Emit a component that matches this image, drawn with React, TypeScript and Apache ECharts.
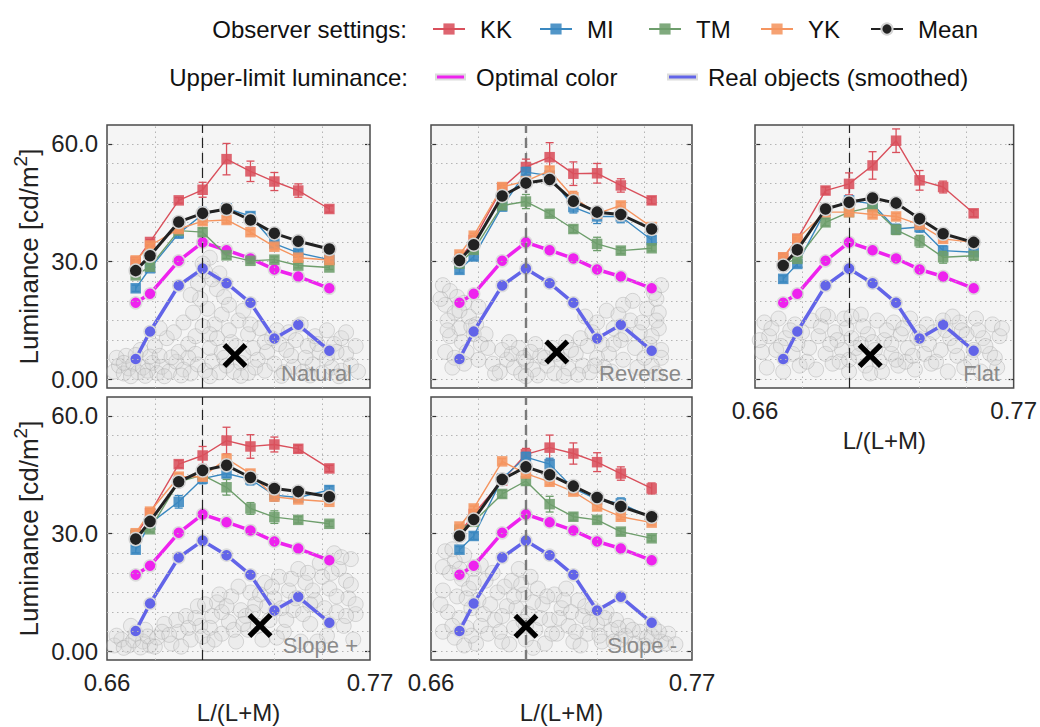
import React, { useEffect, useRef } from "react";
import * as echarts from "echarts";

// ---------------- data ----------------
const xs = [0.672, 0.678, 0.69, 0.7, 0.71, 0.72, 0.73, 0.74, 0.753];
const optimalColor = [19.5, 21.8, 30.2, 34.9, 32.9, 30.8, 28.0, 26.2, 23.2];
const realObjects = [5.2, 12.2, 23.9, 28.2, 24.5, 19.5, 10.4, 13.9, 7.3];

const panelNames = ["Natural", "Reverse", "Flat", "Slope +", "Slope -"];
const observers = ["KK", "MI", "TM", "YK"];
const yTickValues = [0, 30, 60];
const xTickValues = [0.66, 0.77];
const yGridValues = [0, 5, 10, 15, 20, 25, 30, 35, 40, 45, 50, 55, 60];
const xGridValues = [0.682, 0.704, 0.726, 0.748];
const referenceX = 0.7;

// Natural
const naturalKK = [30.0, 35.0, 45.6, 48.3, 56.1, 53.0, 50.4, 48.1, 43.4];
const naturalMI = [23.2, 28.3, 37.2, 42.0, 43.6, 41.6, 34.6, 32.2, 30.5];
const naturalTM = [26.5, 28.7, 37.9, 37.5, 31.6, 30.2, 30.5, 29.0, 28.5];
const naturalYK = [30.3, 34.1, 38.3, 40.3, 40.6, 37.5, 33.8, 31.0, 30.4];
const naturalMean = [27.7, 31.5, 40.1, 42.3, 43.4, 40.6, 37.2, 35.2, 33.2];
const naturalKKErr = [0.6, 0.6, 0.7, 1.9, 4.0, 2.6, 2.3, 1.7, 0.8];
const naturalMIErr = [0.8, 0.8, 1.2, 1.8, 1.2, 0.9, 1.0, 0.8, 0.6];
const naturalTMErr = [0.6, 0.6, 0.8, 1.0, 0.8, 0.6, 0.7, 0.6, 0.5];
const naturalYKErr = [0.5, 0.5, 0.7, 0.8, 0.8, 0.6, 0.7, 0.6, 0.5];

// Reverse
const reverseKK = [30.5, 35.5, 48.8, 54.1, 56.6, 52.4, 52.5, 49.4, 45.6];
const reverseMI = [27.9, 31.3, 44.0, 52.8, 51.9, 43.9, 41.5, 41.5, 35.5];
const reverseTM = [29.5, 33.0, 44.3, 45.3, 42.2, 38.3, 34.5, 32.8, 33.4];
const reverseYK = [31.8, 36.6, 49.0, 50.5, 53.2, 46.4, 42.2, 44.3, 38.8];
const reverseMean = [30.3, 34.3, 46.7, 50.0, 50.9, 45.4, 42.6, 42.0, 38.3];
const reverseKKErr = [0.6, 0.7, 0.8, 2.0, 3.7, 3.0, 2.5, 1.7, 0.9];
const reverseMIErr = [0.8, 0.9, 1.0, 1.2, 1.0, 1.5, 1.8, 1.6, 1.0];
const reverseTMErr = [0.6, 0.7, 0.9, 1.8, 0.8, 0.9, 1.7, 0.8, 0.7];
const reverseYKErr = [0.5, 0.6, 0.7, 0.8, 1.0, 1.5, 0.9, 0.8, 0.6];

// Flat
const flatKK = [31.0, 35.8, 48.1, 49.8, 54.5, 60.8, 50.7, 49.0, 42.3];
const flatMI = [25.6, 29.4, 43.0, 45.6, 44.7, 38.3, 38.8, 32.8, 32.4];
const flatTM = [29.4, 30.7, 40.0, 42.6, 43.9, 38.1, 35.2, 31.1, 31.5];
const flatYK = [31.1, 35.8, 42.6, 42.6, 42.0, 41.5, 39.4, 35.8, 34.9];
const flatMean = [29.0, 33.0, 43.4, 45.1, 46.2, 44.9, 40.9, 37.1, 34.9];
const flatKKErr = [0.6, 0.7, 0.9, 2.8, 3.5, 3.0, 2.5, 1.5, 0.9];
const flatMIErr = [0.8, 0.8, 1.0, 1.0, 1.0, 1.2, 1.3, 1.2, 0.8];
const flatTMErr = [0.6, 0.6, 0.9, 0.8, 0.9, 1.2, 1.5, 1.5, 1.0];
const flatYKErr = [0.5, 0.6, 0.7, 0.7, 0.8, 0.8, 0.7, 0.7, 0.6];

// Slope +
const slopePlusKK = [29.5, 35.2, 47.7, 49.9, 53.7, 52.2, 52.7, 51.6, 46.6];
const slopePlusMI = [25.9, 32.6, 38.1, 44.0, 45.3, 43.8, 39.8, 39.2, 41.1];
const slopePlusTM = [29.7, 31.1, 43.2, 44.9, 41.8, 36.4, 34.2, 33.5, 32.5];
const slopePlusYK = [30.1, 35.6, 44.5, 44.5, 49.1, 45.3, 39.4, 38.7, 38.1];
const slopePlusMean = [28.6, 33.1, 43.2, 46.1, 47.4, 44.3, 41.5, 40.7, 39.4];
const slopePlusKKErr = [0.6, 0.7, 0.9, 2.3, 3.4, 3.0, 1.9, 0.9, 0.8];
const slopePlusMIErr = [0.8, 0.9, 1.6, 1.3, 1.0, 1.4, 1.5, 1.0, 1.0];
const slopePlusTMErr = [0.6, 0.7, 0.8, 0.9, 2.0, 1.5, 1.6, 0.8, 0.7];
const slopePlusYKErr = [0.5, 0.6, 0.8, 1.0, 1.0, 0.8, 0.8, 0.7, 0.6];

// Slope -
const slopeMinusKK = [30.0, 35.0, 43.5, 50.2, 51.9, 50.4, 48.2, 45.3, 41.5];
const slopeMinusMI = [25.9, 29.4, 44.0, 49.5, 47.7, 41.5, 38.7, 37.7, 34.0];
const slopeMinusTM = [31.0, 33.0, 40.1, 43.4, 37.5, 34.3, 33.5, 30.5, 28.8];
const slopeMinusYK = [31.8, 36.4, 48.4, 45.3, 43.2, 40.7, 36.9, 34.3, 32.8];
const slopeMinusMean = [29.4, 33.6, 43.8, 47.0, 45.0, 42.1, 39.2, 36.9, 34.3];
const slopeMinusKKErr = [0.6, 0.7, 0.9, 1.5, 3.2, 2.7, 2.4, 1.7, 1.4];
const slopeMinusMIErr = [0.8, 0.9, 1.0, 1.2, 1.5, 1.2, 1.0, 1.4, 0.8];
const slopeMinusTMErr = [0.6, 0.7, 0.9, 1.0, 2.0, 0.9, 0.8, 0.8, 0.7];
const slopeMinusYKErr = [0.5, 0.6, 0.7, 0.8, 0.8, 0.8, 0.9, 0.7, 0.6];

// centroid ("x") markers
const centroids = [
  [0.7135, 6.1],
  [0.713, 7.0],
  [0.709, 6.1],
  [0.724, 6.6],
  [0.7, 6.4],
];

// background object clouds
const naturalCloud = [
  [0.663, 2.0], [0.665, 3.5], [0.667, 1.5], [0.669, 2.8], [0.671, 4.0], [0.673, 1.8], [0.675, 3.0], [0.677, 2.2],
  [0.679, 4.2], [0.681, 1.6], [0.683, 3.2], [0.686, 2.0], [0.689, 4.5], [0.692, 2.5], [0.695, 1.5], [0.698, 3.8],
  [0.701, 2.2], [0.704, 4.6], [0.707, 1.8], [0.71, 3.5], [0.713, 2.0], [0.716, 4.2], [0.719, 1.6], [0.722, 3.0],
  [0.726, 2.2], [0.73, 4.0], [0.734, 1.8], [0.738, 3.2], [0.742, 2.0], [0.746, 3.8], [0.75, 1.6], [0.754, 3.0],
  [0.758, 2.2], [0.762, 3.6], [0.765, 2.0],
  [0.668, 6.0], [0.674, 7.5], [0.68, 8.5], [0.685, 10.5], [0.69, 7.0], [0.694, 9.0], [0.697, 6.5], [0.703, 8.0],
  [0.708, 7.0], [0.712, 9.5], [0.717, 6.5], [0.721, 8.0], [0.727, 7.0], [0.732, 9.0], [0.737, 6.0], [0.744, 8.5],
  [0.749, 7.0], [0.755, 9.0], [0.76, 6.5], [0.764, 8.5],
  [0.682, 13.0], [0.688, 12.0], [0.692, 14.5], [0.696, 17.0], [0.699, 20.5], [0.702, 18.0], [0.705, 14.0],
  [0.708, 16.5], [0.711, 12.5], [0.715, 15.0], [0.719, 11.5], [0.724, 13.0], [0.729, 10.5], [0.736, 12.0],
  [0.741, 14.0], [0.747, 11.0], [0.752, 12.5], [0.758, 10.5],
  [0.698, 24.5], [0.701, 27.5], [0.703, 31.0], [0.706, 23.0], [0.709, 21.0], [0.7, 29.5], [0.704, 25.5],
  [0.664, 5.5], [0.667, 4.2], [0.67, 0.8], [0.672, 6.2], [0.676, 0.9], [0.678, 5.8], [0.682, 6.0], [0.684, 0.8],
  [0.687, 5.6], [0.691, 1.0], [0.694, 5.5], [0.697, 11.0], [0.7, 13.5], [0.703, 11.5], [0.706, 10.5], [0.709, 5.5],
  [0.711, 19.0], [0.714, 8.5], [0.717, 17.5], [0.72, 14.0], [0.723, 5.0], [0.726, 9.5], [0.731, 12.5], [0.735, 7.5],
  [0.739, 10.0], [0.743, 5.5], [0.748, 9.0], [0.752, 5.5], [0.756, 7.0], [0.76, 12.0], [0.733, 0.9], [0.745, 1.0],
  [0.757, 0.8], [0.703, 0.8], [0.716, 0.9], [0.695, 21.5], [0.707, 27.0],
];
const reverseCloud = [
  [0.665, 24.0], [0.668, 22.5], [0.671, 21.0], [0.666, 19.0], [0.67, 17.0], [0.674, 19.5], [0.667, 15.0],
  [0.672, 13.0], [0.676, 16.0], [0.679, 14.0], [0.668, 11.0], [0.673, 9.5], [0.678, 11.5], [0.681, 9.0],
  [0.666, 7.0], [0.67, 5.5], [0.675, 7.0], [0.68, 5.0], [0.684, 8.0],
  [0.686, 4.0], [0.689, 2.0], [0.692, 5.0], [0.695, 3.0], [0.698, 1.5], [0.7, 4.5], [0.703, 2.5], [0.706, 6.0],
  [0.709, 3.5], [0.712, 1.5], [0.715, 5.0], [0.718, 2.8], [0.721, 6.5], [0.724, 3.5], [0.727, 1.8], [0.73, 5.5],
  [0.733, 3.0], [0.69, 7.5], [0.697, 8.0], [0.704, 9.0], [0.711, 8.0], [0.717, 9.5], [0.723, 10.5], [0.728, 12.0],
  [0.725, 16.0], [0.73, 14.5], [0.734, 17.5], [0.737, 13.0], [0.74, 10.0], [0.744, 15.0], [0.748, 12.0],
  [0.751, 18.0], [0.745, 20.0], [0.754, 22.0], [0.757, 24.0], [0.755, 20.5], [0.756, 17.0], [0.756, 13.0],
  [0.752, 9.0], [0.757, 7.5], [0.757, 5.5], [0.741, 5.0], [0.747, 3.0], [0.736, 2.0], [0.753, 3.5], [0.755, 1.5],
  [0.664, 20.5], [0.667, 12.5], [0.669, 3.0], [0.672, 17.5], [0.674, 4.0], [0.677, 13.5], [0.68, 18.5],
  [0.683, 11.5], [0.687, 1.5], [0.694, 6.5], [0.699, 5.5], [0.702, 7.0], [0.705, 1.0], [0.708, 5.5], [0.713, 6.5],
  [0.716, 0.9], [0.719, 7.5], [0.722, 1.2], [0.726, 8.5], [0.729, 3.5], [0.732, 9.0], [0.735, 6.5], [0.739, 16.5],
  [0.742, 11.5], [0.746, 8.0], [0.749, 14.5], [0.75, 5.5], [0.753, 11.0], [0.755, 15.0], [0.741, 19.0],
  [0.737, 9.0], [0.7, 0.8], [0.693, 9.5],
];
const flatCloud = [
  [0.664, 14.5], [0.67, 15.5], [0.677, 14.0], [0.684, 15.0], [0.691, 16.0], [0.698, 15.5], [0.705, 16.5],
  [0.712, 15.0], [0.719, 14.5], [0.726, 15.5], [0.733, 14.0], [0.74, 15.0], [0.747, 14.5], [0.754, 15.5], [0.761, 14.0],
  [0.666, 11.0], [0.673, 10.5], [0.68, 12.0], [0.687, 11.0], [0.694, 12.0], [0.701, 10.5], [0.708, 11.5],
  [0.715, 10.0], [0.722, 11.5], [0.729, 10.5], [0.736, 12.0], [0.743, 10.5], [0.75, 11.5], [0.757, 10.5], [0.764, 11.0],
  [0.663, 7.0], [0.669, 7.5], [0.676, 6.5], [0.683, 8.0], [0.69, 6.5], [0.697, 7.5], [0.704, 6.0], [0.711, 7.5],
  [0.718, 6.5], [0.725, 8.0], [0.732, 6.5], [0.739, 7.5], [0.746, 6.0], [0.753, 7.5], [0.76, 6.5],
  [0.665, 3.0], [0.672, 2.0], [0.679, 3.5], [0.686, 2.5], [0.693, 4.0], [0.7, 2.0], [0.707, 3.5], [0.714, 2.0],
  [0.721, 3.5], [0.728, 2.5], [0.735, 4.0], [0.742, 2.0], [0.749, 3.0], [0.756, 2.0], [0.763, 3.0],
  [0.7, 5.0], [0.705, 9.0], [0.713, 4.5], [0.718, 9.0], [0.695, 10.0], [0.724, 4.5],
  [0.662, 10.0], [0.667, 13.0], [0.671, 8.5], [0.675, 12.5], [0.678, 9.0], [0.682, 4.5], [0.688, 13.5],
  [0.692, 9.0], [0.696, 4.5], [0.699, 13.0], [0.703, 8.0], [0.706, 13.5], [0.709, 1.5], [0.71, 9.5],
  [0.716, 12.5], [0.72, 5.0], [0.723, 13.0], [0.727, 6.0], [0.73, 12.0], [0.734, 9.0], [0.737, 4.5],
  [0.741, 12.5], [0.745, 8.5], [0.748, 12.5], [0.752, 4.5], [0.755, 12.5], [0.758, 8.5], [0.762, 5.5],
  [0.765, 13.0], [0.701, 16.0], [0.689, 16.5], [0.744, 16.0],
];
const slopePlusCloud = [
  [0.663, 1.5], [0.666, 3.0], [0.669, 1.5], [0.672, 4.5], [0.675, 2.5], [0.678, 1.5], [0.67, 6.5], [0.676, 5.5],
  [0.681, 3.5], [0.684, 7.0], [0.687, 2.0], [0.69, 5.0], [0.693, 9.0], [0.695, 3.0], [0.698, 11.5], [0.699, 6.5],
  [0.702, 1.8], [0.704, 9.0], [0.706, 12.5], [0.708, 4.5], [0.711, 7.5], [0.712, 14.0], [0.714, 2.5],
  [0.716, 10.5], [0.719, 5.5], [0.72, 15.0], [0.722, 12.0], [0.725, 3.0], [0.726, 17.5], [0.728, 8.0],
  [0.73, 13.5], [0.732, 19.0], [0.734, 5.0], [0.736, 15.5], [0.738, 10.5], [0.74, 21.0], [0.741, 2.5],
  [0.743, 17.5], [0.745, 7.0], [0.747, 13.0], [0.749, 22.5], [0.75, 19.0], [0.752, 4.0], [0.753, 16.0],
  [0.755, 25.0], [0.756, 10.0], [0.757, 21.0], [0.759, 6.5], [0.76, 18.0], [0.761, 13.5], [0.762, 23.5],
  [0.763, 3.0], [0.764, 9.5], [0.7, 3.8], [0.718, 9.0], [0.733, 11.0], [0.708, 10.0], [0.723, 6.5], [0.745, 12.0],
  [0.664, 4.0], [0.667, 0.9], [0.671, 2.8], [0.674, 1.0], [0.677, 3.8], [0.68, 1.2], [0.683, 5.0], [0.686, 4.2],
  [0.689, 8.0], [0.691, 1.2], [0.694, 6.0], [0.697, 8.5], [0.701, 12.0], [0.703, 6.0], [0.705, 3.0],
  [0.707, 14.5], [0.71, 11.5], [0.713, 5.5], [0.715, 16.5], [0.717, 7.0], [0.721, 10.0], [0.724, 14.5],
  [0.727, 11.5], [0.729, 16.5], [0.731, 3.5], [0.735, 8.0], [0.737, 18.5], [0.739, 13.5], [0.742, 9.5],
  [0.744, 20.0], [0.746, 15.5], [0.748, 2.5], [0.751, 11.0], [0.754, 20.0], [0.756, 14.0], [0.758, 24.0],
  [0.76, 9.0], [0.762, 17.0], [0.764, 12.0],
];
const slopeMinusCloud = [
  [0.666, 25.5], [0.67, 23.0], [0.674, 24.5], [0.668, 20.0], [0.673, 18.5], [0.678, 21.0], [0.665, 15.5],
  [0.671, 14.0], [0.676, 16.0], [0.68, 13.0], [0.667, 10.0], [0.672, 8.5], [0.677, 11.0], [0.682, 9.5],
  [0.665, 5.0], [0.67, 3.5], [0.675, 6.0], [0.679, 2.0], [0.684, 4.5], [0.687, 8.0], [0.688, 15.0], [0.69, 2.5],
  [0.692, 11.5], [0.694, 18.0], [0.695, 6.0], [0.697, 21.0], [0.699, 14.5], [0.7, 3.0], [0.701, 9.5],
  [0.702, 19.0], [0.704, 5.5], [0.705, 16.0], [0.707, 12.0], [0.708, 2.0], [0.71, 8.0], [0.712, 14.5],
  [0.713, 4.5], [0.715, 11.0], [0.717, 16.0], [0.718, 6.5], [0.72, 2.5], [0.722, 13.0], [0.724, 9.0],
  [0.726, 4.5], [0.728, 11.0], [0.73, 7.0], [0.732, 2.5], [0.734, 10.0], [0.736, 5.5], [0.738, 8.0], [0.74, 3.0],
  [0.743, 6.5], [0.746, 2.0], [0.748, 5.0], [0.751, 3.5], [0.754, 6.0], [0.757, 2.5], [0.76, 4.5], [0.763, 1.8],
  [0.7, 6.5], [0.69, 9.0], [0.683, 18.0],
  [0.665, 21.5], [0.669, 26.0], [0.672, 21.0], [0.675, 13.5], [0.678, 17.5], [0.681, 22.0], [0.664, 12.0],
  [0.669, 6.5], [0.674, 1.5], [0.677, 4.0], [0.681, 6.5], [0.685, 12.0], [0.686, 20.0], [0.689, 5.0],
  [0.691, 16.5], [0.693, 1.8], [0.696, 11.0], [0.698, 17.0], [0.699, 7.5], [0.703, 12.5], [0.703, 0.9],
  [0.706, 8.5], [0.709, 14.0], [0.711, 4.5], [0.714, 8.5], [0.716, 13.0], [0.719, 10.0], [0.721, 5.0],
  [0.723, 1.5], [0.725, 11.5], [0.727, 7.5], [0.731, 4.0], [0.733, 8.5], [0.737, 2.5], [0.739, 6.0],
  [0.742, 4.0], [0.745, 5.5], [0.75, 1.5], [0.753, 4.0], [0.756, 5.0], [0.759, 2.0], [0.695, 14.0],
];

// ---------------- assembly ----------------
const panelObserverValues = [
  [naturalKK, naturalMI, naturalTM, naturalYK],
  [reverseKK, reverseMI, reverseTM, reverseYK],
  [flatKK, flatMI, flatTM, flatYK],
  [slopePlusKK, slopePlusMI, slopePlusTM, slopePlusYK],
  [slopeMinusKK, slopeMinusMI, slopeMinusTM, slopeMinusYK],
];
const panelObserverErrors = [
  [naturalKKErr, naturalMIErr, naturalTMErr, naturalYKErr],
  [reverseKKErr, reverseMIErr, reverseTMErr, reverseYKErr],
  [flatKKErr, flatMIErr, flatTMErr, flatYKErr],
  [slopePlusKKErr, slopePlusMIErr, slopePlusTMErr, slopePlusYKErr],
  [slopeMinusKKErr, slopeMinusMIErr, slopeMinusTMErr, slopeMinusYKErr],
];
const panelMeans = [naturalMean, reverseMean, flatMean, slopePlusMean, slopeMinusMean];
const panelClouds = [naturalCloud, reverseCloud, flatCloud, slopePlusCloud, slopeMinusCloud];

// ---------------- styling ----------------
const FONT = "'Liberation Sans', Arial, Helvetica, sans-serif";
const observerColors = ["#d9505c", "#3a88c0", "#6e9e6c", "#f59560"];
const MEAN_COLOR = "#222222";
const OPTIMAL_COLOR = "#ee22ee";
const REAL_COLOR = "#6264e8";
const Y_MIN = -2.2;
const Y_MAX = 64.8;

const gridBoxes = [
  { left: 107, top: 125, width: 263, height: 263 },
  { left: 431, top: 125, width: 261, height: 263 },
  { left: 755, top: 125, width: 263, height: 263 },
  { left: 107, top: 397, width: 263, height: 263 },
  { left: 431, top: 397, width: 261, height: 263 },
];
const showXLabels = [false, false, true, true, true];
const showYLabels = [true, false, false, true, false];
const dashStyles = [
  { color: "#222", width: 1.2 },
  { color: "#7a7a7a", width: 2.4 },
  { color: "#222", width: 1.2 },
  { color: "#222", width: 1.2 },
  { color: "#7a7a7a", width: 2.4 },
];
const nameOffsets = [18, 11, 18, 12, 15];

const X_PATH =
  "path://M3,0 L10,7 L17,0 L20,3 L13,10 L20,17 L17,20 L10,13 L3,20 L0,17 L7,10 L0,3 Z";

function yFmt(v: number) {
  return v === 0 ? "0.00" : v.toFixed(1);
}

function buildOption() {
  const grid: any[] = [];
  const xAxis: any[] = [];
  const yAxis: any[] = [];
  const series: any[] = [];
  const graphic: any[] = [];

  gridBoxes.forEach((g, p) => {
    grid.push({
      ...g,
      show: true,
      backgroundColor: "#f5f5f5",
      borderColor: "#4a4a4a",
      borderWidth: 1.5,
      containLabel: false,
    });
    xAxis.push({
      gridIndex: p,
      type: "value",
      min: 0.66,
      max: 0.77,
      splitLine: { show: false },
      axisLine: { show: false },
      axisTick: { show: false },
      axisLabel: {
        show: showXLabels[p],
        customValues: xTickValues,
        formatter: (v: number) => v.toFixed(2),
        fontSize: 24,
        fontFamily: FONT,
        color: "#222",
        margin: 10,
        showMinLabel: true,
        showMaxLabel: true,
      },
      name: showXLabels[p] ? "L/(L+M)" : "",
      nameLocation: "middle",
      nameGap: 40,
      nameTextStyle: { fontSize: 24, fontFamily: FONT, color: "#222" },
    });
    yAxis.push({
      gridIndex: p,
      type: "value",
      min: Y_MIN,
      max: Y_MAX,
      splitLine: { show: false },
      axisLine: { show: false },
      axisTick: {
        show: true,
        inside: true,
        length: 5,
        customValues: yTickValues,
        lineStyle: { color: "#333", width: 1.2 },
      },
      axisLabel: {
        show: showYLabels[p],
        customValues: yTickValues,
        formatter: yFmt,
        fontSize: 24,
        fontFamily: FONT,
        color: "#222",
        margin: 9,
      },
      name: showYLabels[p] ? "{a|Luminance [cd/m}{s|2}{a|]}" : "",
      nameLocation: "middle",
      nameRotate: 90,
      nameGap: 60,
      nameTextStyle: {
        fontSize: 26,
        fontFamily: FONT,
        color: "#222",
        rich: {
          a: { fontSize: 26, fontFamily: FONT, color: "#222" },
          s: { fontSize: 19, fontFamily: FONT, color: "#222", verticalAlign: "top", lineHeight: 36 },
        },
      },
    });
    yAxis.push({
      gridIndex: p,
      type: "value",
      position: "right",
      min: Y_MIN,
      max: Y_MAX,
      splitLine: { show: false },
      axisLine: { show: false },
      axisLabel: { show: false },
      axisTick: {
        show: true,
        inside: true,
        length: 5,
        customValues: yTickValues,
        lineStyle: { color: "#333", width: 1.2 },
      },
    });

    const yi = p * 2;

    // dotted grid lines
    series.push({
      type: "line",
      xAxisIndex: p,
      yAxisIndex: yi,
      data: [],
      silent: true,
      z: 1,
      markLine: {
        silent: true,
        symbol: ["none", "none"],
        label: { show: false },
        animation: false,
        lineStyle: { color: "#b5b5b5", width: 1, type: [1.5, 3.5] },
        data: [
          ...yGridValues.map((v) => ({ yAxis: v })),
          ...xGridValues.map((v) => ({ xAxis: v })),
        ],
      },
    });

    // background object cloud
    series.push({
      type: "scatter",
      xAxisIndex: p,
      yAxisIndex: yi,
      data: panelClouds[p],
      symbol: "circle",
      symbolSize: 15,
      silent: true,
      z: 2,
      itemStyle: {
        color: "rgba(212,212,212,0.32)",
        borderColor: "rgba(165,165,165,0.5)",
        borderWidth: 1,
      },
    });

    // dashed reference line
    series.push({
      type: "line",
      xAxisIndex: p,
      yAxisIndex: yi,
      data: [],
      silent: true,
      z: 3,
      markLine: {
        silent: true,
        symbol: ["none", "none"],
        label: { show: false },
        animation: false,
        lineStyle: { color: dashStyles[p].color, width: dashStyles[p].width, type: [10, 5] },
        data: [{ xAxis: referenceX }],
      },
    });

    // real objects
    series.push({
      name: "Real objects (smoothed)",
      type: "line",
      xAxisIndex: p,
      yAxisIndex: yi,
      data: xs.map((x, i) => [x, realObjects[i]]),
      color: REAL_COLOR,
      lineStyle: { width: 3.5, color: REAL_COLOR },
      symbol: "circle",
      symbolSize: 12,
      itemStyle: { color: REAL_COLOR, borderColor: "#dcdcdc", borderWidth: 1.5 },
      z: 4,
    });
    // optimal color
    series.push({
      name: "Optimal color",
      type: "line",
      xAxisIndex: p,
      yAxisIndex: yi,
      data: xs.map((x, i) => [x, optimalColor[i]]),
      color: OPTIMAL_COLOR,
      lineStyle: { width: 3.5, color: OPTIMAL_COLOR },
      symbol: "circle",
      symbolSize: 12,
      itemStyle: { color: OPTIMAL_COLOR, borderColor: "#dcdcdc", borderWidth: 1.5 },
      z: 4,
    });

    // observers
    observers.forEach((obs, k) => {
      const vals = panelObserverValues[p][k];
      const errs = panelObserverErrors[p][k];
      const col = observerColors[k];
      series.push({
        name: obs,
        type: "line",
        xAxisIndex: p,
        yAxisIndex: yi,
        data: xs.map((x, i) => [x, vals[i]]),
        color: col,
        lineStyle: { width: 1.4, color: col },
        symbol: "rect",
        symbolSize: 10.5,
        itemStyle: { color: col, opacity: 0.88 },
        z: 5 + k * 0.1,
      });
      series.push({
        type: "custom",
        xAxisIndex: p,
        yAxisIndex: yi,
        data: xs.map((x, i) => [x, vals[i] - errs[i], vals[i] + errs[i]]),
        encode: { x: 0, y: [1, 2] },
        silent: true,
        z: 5 + k * 0.1 + 0.05,
        renderItem: (params: any, api: any) => {
          const x = api.value(0);
          const a = api.coord([x, api.value(1)]);
          const b = api.coord([x, api.value(2)]);
          const w = 4;
          const st = { stroke: col, lineWidth: 1.3, fill: null };
          return {
            type: "group",
            children: [
              { type: "line", shape: { x1: a[0], y1: a[1], x2: b[0], y2: b[1] }, style: st },
              { type: "line", shape: { x1: a[0] - w, y1: a[1], x2: a[0] + w, y2: a[1] }, style: st },
              { type: "line", shape: { x1: b[0] - w, y1: b[1], x2: b[0] + w, y2: b[1] }, style: st },
            ],
          };
        },
      });
    });

    // mean
    series.push({
      name: "Mean",
      type: "line",
      xAxisIndex: p,
      yAxisIndex: yi,
      data: xs.map((x, i) => [x, panelMeans[p][i]]),
      color: MEAN_COLOR,
      lineStyle: { width: 3, color: MEAN_COLOR },
      symbol: "circle",
      symbolSize: 13,
      itemStyle: { color: MEAN_COLOR, borderColor: "#d4d4d4", borderWidth: 1.5 },
      z: 8,
    });

    // centroid marker
    series.push({
      type: "scatter",
      xAxisIndex: p,
      yAxisIndex: yi,
      data: [centroids[p]],
      symbol: X_PATH,
      symbolSize: 25,
      itemStyle: { color: "#000", opacity: 1 },
      silent: true,
      z: 9,
    });

    // panel label
    graphic.push({
      type: "text",
      x: g.left + g.width - nameOffsets[p],
      y: g.top + g.height - 15,
      z: 100,
      style: {
        text: panelNames[p],
        fontSize: 22,
        fontFamily: FONT,
        fill: "#8a8a8a",
        align: "right",
        verticalAlign: "middle",
      },
    });
  });

  graphic.push({
    type: "text",
    x: 407,
    y: 29,
    style: {
      text: "Observer settings:",
      fontSize: 24,
      fontFamily: FONT,
      fill: "#111",
      align: "right",
      verticalAlign: "middle",
    },
  });
  graphic.push({
    type: "text",
    x: 408,
    y: 77,
    style: {
      text: "Upper-limit luminance:",
      fontSize: 24,
      fontFamily: FONT,
      fill: "#111",
      align: "right",
      verticalAlign: "middle",
    },
  });

  const legendRow1Left = [432, 539, 648, 760, 870];
  const legendNames1 = ["KK", "MI", "TM", "YK", "Mean"];
  const legendRow2Left = [435, 667];
  const legendNames2 = ["Optimal color", "Real objects (smoothed)"];
  const legend: any[] = [];
  legendNames1.forEach((n, i) => {
    legend.push({
      data: [n],
      left: legendRow1Left[i],
      top: 17,
      itemWidth: 32,
      itemHeight: 14,
      selectedMode: false,
      padding: 0,
      textStyle: { fontSize: 24, fontFamily: FONT, color: "#111", padding: [0, 0, 0, 10] },
    });
  });
  legendNames2.forEach((n, i) => {
    legend.push({
      data: [{ name: n, icon: "rect" }],
      left: legendRow2Left[i],
      top: 65,
      itemWidth: 29,
      itemHeight: 5,
      selectedMode: false,
      padding: 0,
      textStyle: { fontSize: 24, fontFamily: FONT, color: "#111", padding: [0, 0, 0, 6] },
    });
  });

  return {
    animation: false,
    backgroundColor: "#ffffff",
    textStyle: { fontFamily: FONT },
    grid,
    xAxis,
    yAxis,
    series,
    legend,
    graphic,
  };
}

export default function App() {
  const ref = useRef<HTMLDivElement>(null);
  useEffect(() => {
    document.body.style.margin = "0";
    if (!ref.current) return;
    const chart = echarts.init(ref.current, undefined, { renderer: "svg" });
    chart.setOption(buildOption() as any);
    return () => {
      chart.dispose();
    };
  }, []);
  return <div ref={ref} style={{ width: 1040, height: 727 }} />;
}
